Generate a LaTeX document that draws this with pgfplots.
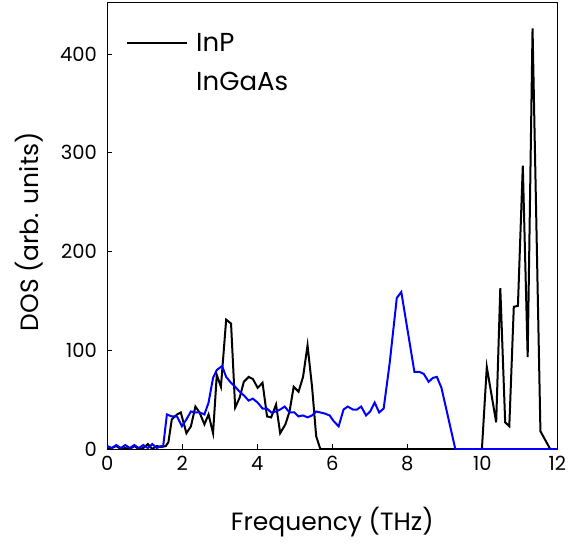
\documentclass[border=0pt]{standalone}
\usepackage{fontspec}
\setmainfont{Poppins}
\usepackage{pgfplots}
\pgfplotsset{compat=1.18}
\begin{document}
\begin{tikzpicture}
\path (-107.3pt,-95pt) rectangle (463.7pt,449pt);
\begin{axis}[
  scale only axis,
  width=450pt, height=446.3pt,
  xmin=0, xmax=12, ymin=0, ymax=452,
  xtick={0,2,...,12}, ytick={0,100,...,400},
  tick align=inside, xtick pos=left, ytick pos=left,
  major tick length=5pt,
  axis line style={line width=0.9pt},
  tick style={line width=0.9pt, black},
  /pgf/number format/assume math mode=true,
  ticklabel style={font=\fontsize{19.5}{22}\selectfont},
  xticklabel style={yshift=-4pt},
  yticklabel style={xshift=-7pt},
  label style={font=\fontsize{25}{30}\selectfont},
  xlabel={Frequency (THz)},
  ylabel={DOS (arb. units)},
  xlabel style={at={(rel axis cs:0.5,0)}, anchor=center, yshift=-73pt},
  ylabel style={at={(axis description cs:-0.1733,0.4866)}, anchor=center},
  legend style={draw=none, fill=none, at={(axis description cs:0.035,0.94)}, anchor=north west,
    font=\fontsize{26}{30}\selectfont, row sep=15pt,
    nodes={inner xsep=8pt}},
  legend cell align=left,
  legend image code/.code={\draw[#1] (0pt,0pt) -- (60pt,0pt);},
]
\addplot[black, line width=2pt] coordinates {
(0,0) (0.12,1) (0.24,3) (0.36,0) (0.48,1) (0.60,0) (0.72,3) (0.84,0) (0.96,1) (1.08,5) (1.20,0) (1.32,3) (1.44,2) (1.56,3)
(1.63,7) (1.72,30) (1.86,35) (1.96,37) (2.11,16) (2.23,23) (2.35,43) (2.46,37) (2.59,25) (2.70,35) (2.82,16) (2.92,75)
(3.03,63) (3.17,131) (3.30,127) (3.41,42) (3.53,52) (3.64,68) (3.77,73) (3.88,71) (4.01,62) (4.14,67) (4.26,33) (4.37,32)
(4.50,45) (4.61,16) (4.75,25) (4.86,38) (4.97,63) (5.10,58) (5.22,73) (5.34,105) (5.46,63) (5.57,13) (5.68,0)
(9.99,0) (10.12,83) (10.37,27) (10.48,163) (10.61,27) (10.72,23) (10.84,144) (10.95,145) (11.08,287) (11.21,93)
(11.34,426) (11.55,18) (11.81,0) (12,0)
};
\addlegendentry{InP}
\addplot[blue, line width=2pt, forget plot] coordinates {
(0,3) (0.12,1) (0.24,4) (0.36,1) (0.48,4) (0.60,1) (0.72,4) (0.84,1) (0.96,4) (1.08,1) (1.20,5) (1.32,1) (1.44,3) (1.49,3)
(1.59,35) (1.72,33) (1.86,33) (1.99,23) (2.11,30) (2.23,38) (2.35,37) (2.46,37) (2.59,35) (2.70,47) (2.82,72) (2.92,80)
(3.06,84) (3.17,73) (3.30,67) (3.41,63) (3.53,58) (3.65,54) (3.77,49) (3.88,51) (4.01,47) (4.14,41) (4.26,41) (4.37,37)
(4.50,38) (4.61,40) (4.73,43) (4.86,37) (4.99,37) (5.10,33) (5.22,34) (5.34,32) (5.46,34) (5.57,38) (5.68,37) (5.79,36)
(5.93,34) (6.04,28) (6.17,23) (6.30,40) (6.41,43) (6.55,40) (6.66,40) (6.77,43) (6.90,34) (7.01,38) (7.13,47) (7.25,37)
(7.37,41) (7.53,87) (7.72,153) (7.84,159) (8.19,78) (8.33,78) (8.44,76) (8.57,68) (8.68,72) (8.79,73) (8.91,62) (9.06,37)
(9.28,0) (12,0)
};
\addlegendimage{legend image code/.code={}}
\addlegendentry{InGaAs}
\end{axis}
\end{tikzpicture}
\end{document}
